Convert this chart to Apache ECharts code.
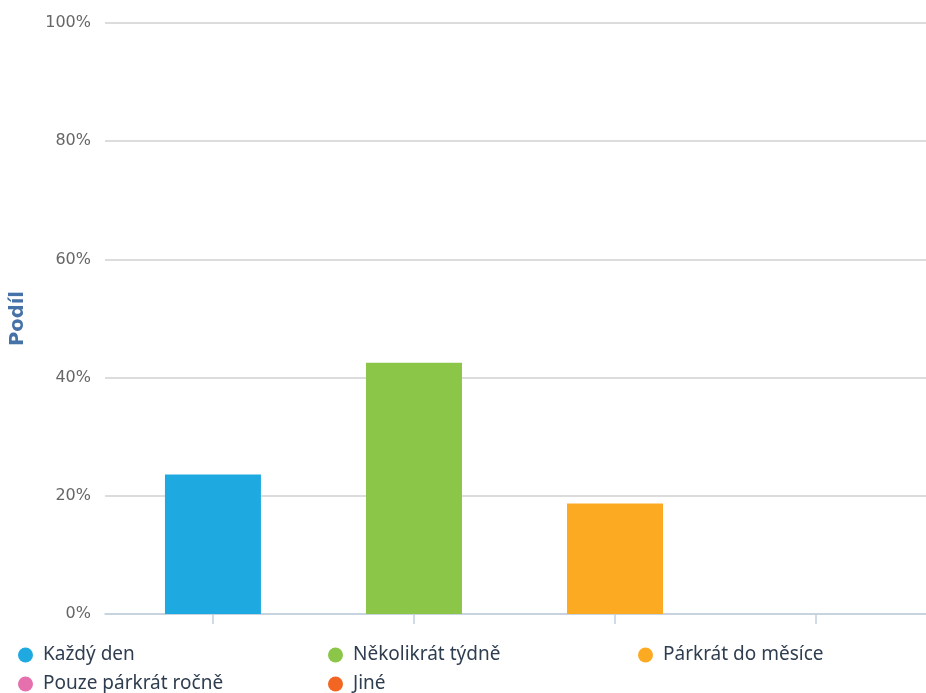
<!DOCTYPE html>
<html>
<head>
<meta charset="utf-8">
<script src="https://cdn.jsdelivr.net/npm/echarts@6/dist/echarts.min.js"></script>
<style>
html,body{margin:0;padding:0;background:#fff;}
#chart{width:926px;height:693px;}
</style>
</head>
<body>
<div id="chart"></div>
<script>
// Data
var categories = ['Každý den', 'Několikrát týdně', 'Párkrát do měsíce', 'Pouze párkrát ročně', 'Jiné'];
var values = [23.6, 42.5, 18.7, 0, 15.2];
var colors = ['#1eaae1', '#8bc649', '#fdaa23', '#e670ae', '#f26522'];
var yTicks = [0, 20, 40, 60, 80, 100];
var yAxisName = 'Podíl';

var chart = echarts.init(document.getElementById('chart'), null, {renderer: 'canvas'});

var series = categories.map(function (name, i) {
  return {
    name: name,
    type: 'bar',
    barWidth: 96,
    barGap: '-100%',
    data: [[i, values[i]]],
    itemStyle: {color: colors[i]},
    emphasis: {disabled: true}
  };
});

var legendText = {
  fontFamily: 'Noto Sans',
  fontSize: 19,
  color: '#2e3d4f',
  width: 240,
  lineHeight: 22,
  overflow: 'none'
};

chart.setOption({
  animation: false,
  color: colors,
  grid: {left: 105, right: 0, top: 23, bottom: 79, containLabel: false},
  legend: [
    {
      data: categories.slice(0, 3),
      left: 13, top: 639,
      orient: 'horizontal',
      icon: 'circle',
      itemWidth: 25, itemHeight: 15,
      itemGap: 45,
      textStyle: legendText
    },
    {
      data: categories.slice(3),
      left: 13, top: 668,
      orient: 'horizontal',
      icon: 'circle',
      itemWidth: 25, itemHeight: 15,
      itemGap: 45,
      textStyle: legendText
    }
  ],
  xAxis: {
    type: 'value',
    min: -0.537,
    max: 3.547,
    axisLine: {show: true, lineStyle: {color: '#c0d0e0', width: 1.5}},
    axisTick: {show: true, customValues: [0, 1, 2, 3], length: 10, lineStyle: {color: '#c0d0e0', width: 1.5}},
    axisLabel: {show: false},
    splitLine: {show: false}
  },
  yAxis: {
    type: 'value',
    min: yTicks[0],
    max: yTicks[yTicks.length - 1],
    interval: 20,
    name: yAxisName,
    nameLocation: 'middle',
    nameGap: 77,
    nameRotate: 90,
    nameTextStyle: {fontFamily: 'DejaVu Sans', fontWeight: 'bold', fontSize: 19.5, color: '#4572a7'},
    axisLine: {show: false},
    axisTick: {show: false},
    axisLabel: {
      formatter: '{value}%',
      margin: 14,
      fontFamily: 'DejaVu Sans',
      fontSize: 16,
      color: '#666666'
    },
    splitLine: {show: true, lineStyle: {color: '#d0d0d0', width: 1.5}}
  },
  series: series
});
</script>
</body>
</html>
